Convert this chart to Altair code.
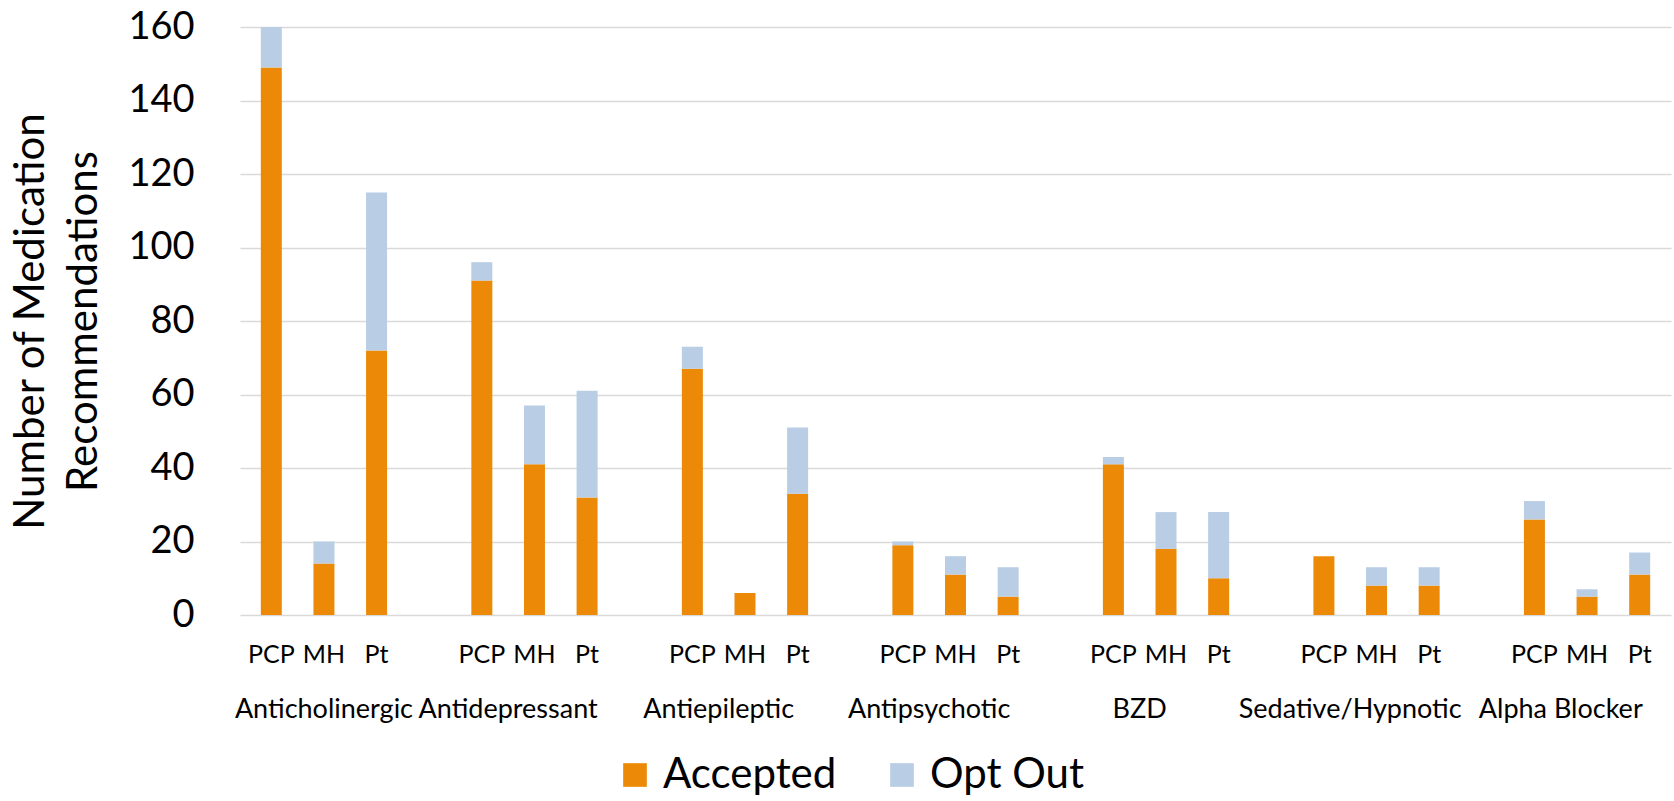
import altair as alt
import pandas as pd

groups = ["Anticholinergic", "Antidepressant", "Antiepileptic", "Antipsychotic",
          "BZD", "Sedative/Hypnotic", "Alpha Blocker"]
subs = ["PCP", "MH", "Pt"]
accepted = [149, 14, 72, 91, 41, 32, 67, 6, 33, 19, 11, 5, 41, 18, 10, 16, 8, 8, 26, 5, 11]
opt_out = [11, 6, 43, 5, 16, 29, 6, 0, 18, 1, 5, 8, 2, 10, 18, 0, 5, 5, 5, 2, 6]
statuses = ["Accepted", "Opt Out"]
colors = ["#EC8A08", "#B9CDE5"]

FONT = "Lato"
N_SLOTS = len(groups) * 4 - 1  # one blank slot between groups

rows, sub_rows, grp_rows = [], [], []
for g, grp in enumerate(groups):
    for j, s in enumerate(subs):
        k = g * 3 + j
        slot = g * 4 + j + 0.5
        rows.append({"group": grp, "sub": s, "slot": slot, "status": "Accepted", "ord": 0, "value": accepted[k]})
        rows.append({"group": grp, "sub": s, "slot": slot, "status": "Opt Out", "ord": 1, "value": opt_out[k]})
        sub_rows.append({"sub": s, "slot": slot})
    # Excel-style outer category span: includes the preceding blank slot
    start = g * 4 - (1 if g > 0 else 0)
    end = g * 4 + 3
    grp_rows.append({"group": grp, "center": (start + end) / 2})

df = pd.DataFrame(rows)
df_sub = pd.DataFrame(sub_rows)
df_grp = pd.DataFrame(grp_rows)

W, H = 1431, 588
xscale = alt.Scale(domain=[0, N_SLOTS], nice=False, zero=False)

bars = alt.Chart(df).mark_bar(size=21).encode(
    x=alt.X("slot:Q", scale=xscale, axis=None),
    y=alt.Y("value:Q", stack="zero",
            scale=alt.Scale(domain=[0, 160], nice=False),
            axis=alt.Axis(values=list(range(0, 161, 20)),
                          title=["Number of Medication", "Recommendations"],
                          titleFontSize=42, titleFont=FONT, titleFontWeight="normal",
                          titleColor="#000000", titleLineHeight=53, titlePadding=22,
                          labelFontSize=38, labelFont=FONT, labelColor="#000000",
                          labelPadding=46, domain=False, ticks=False,
                          grid=True, gridColor="#D9D9D9", gridWidth=1.4)),
    color=alt.Color("status:N",
                    scale=alt.Scale(domain=statuses, range=colors),
                    legend=alt.Legend(title=None, orient="none", direction="horizontal",
                                      legendX=374, legendY=727,
                                      symbolType="square", symbolSize=560,
                                      symbolStrokeWidth=0, labelFont=FONT,
                                      labelFontSize=42, labelColor="#000000",
                                      labelLimit=0, labelOffset=7, columnPadding=44)),
    order=alt.Order("ord:Q", sort="ascending"),
)

sub_text = alt.Chart(df_sub).mark_text(
    font=FONT, fontSize=25, color="#000000", baseline="alphabetic", align="center"
).encode(
    x=alt.X("slot:Q", scale=xscale),
    y=alt.value(636),
    text="sub:N",
)

grp_text = alt.Chart(df_grp).mark_text(
    font=FONT, fontSize=27, color="#000000", baseline="alphabetic", align="center"
).encode(
    x=alt.X("center:Q", scale=xscale),
    y=alt.value(691),
    text="group:N",
)

chart = alt.layer(bars, sub_text, grp_text).properties(
    width=W, height=H,
    autosize=alt.AutoSizeParams(type="none"),
    padding={"left": 240, "top": 27, "right": 1674 - 240 - W, "bottom": 801 - 27 - H},
    background="#FFFFFF",
).configure_view(stroke=None)

chart.save("out.html", embed_options={"renderer": "svg", "actions": False})
